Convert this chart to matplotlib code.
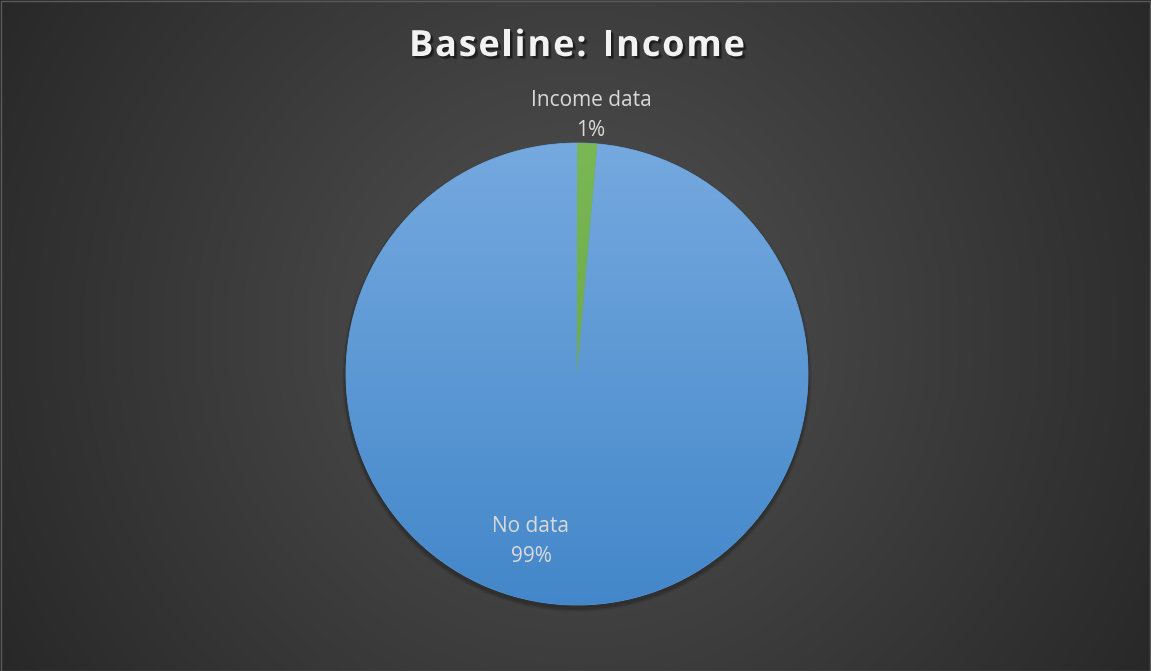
import numpy as np
import matplotlib
matplotlib.use("Agg")
import matplotlib.pyplot as plt
import matplotlib.patheffects as pe
from matplotlib.patches import Circle

# Data
categories = ["Income data", "No data"]
values = [1.4, 98.6]
pct_labels = ["1%", "99%"]
title = "Baseline: Income"

W, H = 1151, 671
fig = plt.figure(figsize=(W / 100, H / 100), dpi=100)
ax = fig.add_axes([0, 0, 1, 1])
ax.set_xlim(0, W)
ax.set_ylim(0, H)
ax.set_aspect("equal")
ax.axis("off")

# radial background
yy, xx = np.mgrid[0:H, 0:W]
cx, cy = 577, 330
r = np.sqrt((xx - cx) ** 2 + (yy - cy) ** 2)
t = np.clip(r / 700.0, 0, 1)
c0 = np.array([0x52, 0x52, 0x52]) / 255
c1 = np.array([0x26, 0x26, 0x26]) / 255
bg = c0[None, None, :] * (1 - t[..., None]) + c1[None, None, :] * t[..., None]
ax.imshow(bg, extent=(0, W, 0, H), origin="upper", zorder=0)

# border
ax.add_patch(plt.Rectangle((0.5, 0.5), W - 1, H - 1, fill=False, ec="#5a5a5a", lw=1, zorder=1))

pc = (577, H - 374)
R = 231

# soft shadow (mostly below)
for i in range(10):
    ax.add_patch(Circle((pc[0], pc[1] - 3), R + 4 - i * 0.4, color="black", alpha=0.02, lw=0, zorder=1.5))

wedges, _ = ax.pie(values, colors=["#70ad47", "#5b9bd5"], startangle=90, counterclock=False,
                   center=pc, radius=R, frame=True,
                   wedgeprops=dict(linewidth=0.6, edgecolor="#5b9bd5"))
for w in wedges:
    w.set_zorder(2)
ax.set_xlim(0, W)
ax.set_ylim(0, H)
ax.axis("off")

# gradient on the blue wedge
grad = np.linspace(0, 1, 256)[:, None]
top = np.array([0x75, 0xa9, 0xdf]) / 255
bot = np.array([0x43, 0x87, 0xca]) / 255
gimg = top[None, None, :] * (1 - grad[..., None]) + bot[None, None, :] * grad[..., None]
gimg = np.repeat(gimg, 2, axis=1)
im = ax.imshow(gimg, extent=(pc[0] - R, pc[0] + R, pc[1] - R, pc[1] + R), origin="upper",
               zorder=2.5, aspect="auto")
im.set_clip_path(wedges[1])

gtop = np.array([0x7a, 0xb8, 0x55]) / 255
gbot = np.array([0x62, 0x9e, 0x3c]) / 255
gimg2 = gtop[None, None, :] * (1 - grad[..., None]) + gbot[None, None, :] * grad[..., None]
gimg2 = np.repeat(gimg2, 2, axis=1)
im2 = ax.imshow(gimg2, extent=(pc[0] - R, pc[0] + R, pc[1] - R, pc[1] + R), origin="upper",
                zorder=2.5, aspect="auto")
im2.set_clip_path(wedges[0])

font = "Open Sans"
lab_col = "#d9d9d9"
fs = 15
ax.text(591, H - 100, categories[0], ha="center", va="center", fontsize=fs, color=lab_col, family=font, zorder=5)
ax.text(591, H - 130, pct_labels[0], ha="center", va="center", fontsize=fs, color=lab_col, family=font, zorder=5)
ax.text(531, H - 527, categories[1], ha="center", va="center", fontsize=fs, color=lab_col, family=font, zorder=5)
ax.text(531, H - 557, pct_labels[1], ha="center", va="center", fontsize=fs, color=lab_col, family=font, zorder=5)

# title with letter spacing and soft shadow (path effects, one text per letter)
renderer = fig.canvas.get_renderer()
tfs = 26
widths = []
for ch in title:
    tt = ax.text(0, 0, ch if ch != " " else "a", fontsize=tfs, fontweight="bold", family=font)
    bb = tt.get_window_extent(renderer)
    widths.append(bb.width * (0.55 if ch == " " else 1.0))
    tt.remove()
target = 336.0
natural = sum(widths)
track = (target - natural) / (len(title) - 1)
x = 577 - target / 2
shadow = [pe.SimplePatchShadow(offset=(1.5, -1.5), shadow_rgbFace="black", alpha=0.35),
          pe.SimplePatchShadow(offset=(2.2, -2.2), shadow_rgbFace="black", alpha=0.25),
          pe.Normal()]
for ch, wch in zip(title, widths):
    if ch != " ":
        ax.text(x, H - 47, ch, ha="left", va="center", fontsize=tfs, fontweight="bold",
                color="#f2f2f2", family=font, zorder=6, path_effects=shadow)
    x += wch + track

fig.savefig("out.png", dpi=100)
